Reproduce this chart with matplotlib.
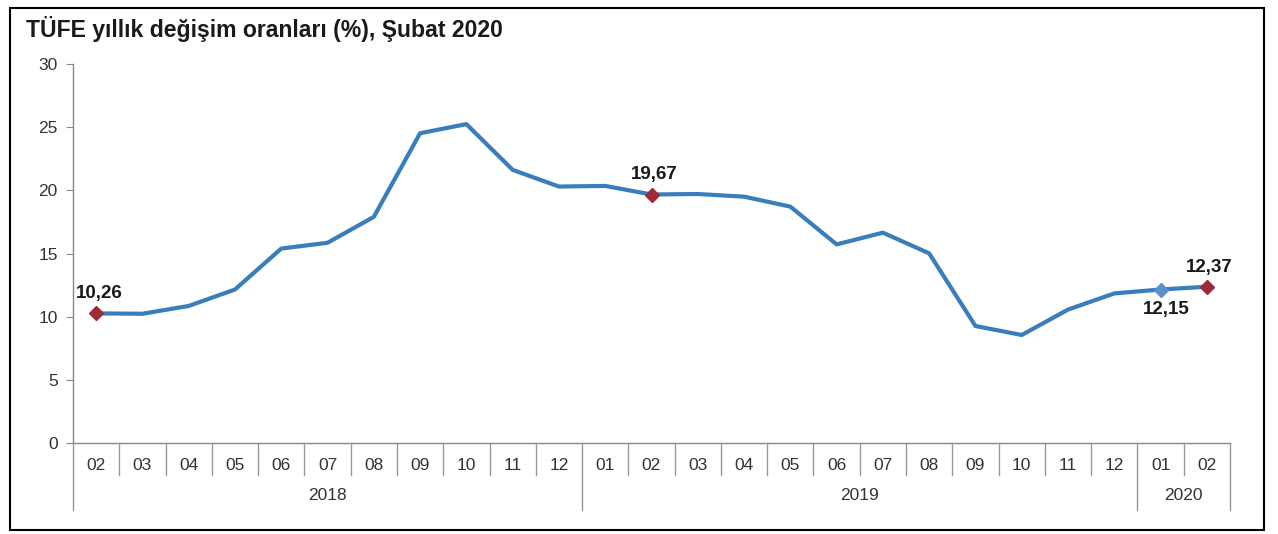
import matplotlib
matplotlib.use("Agg")
import matplotlib.pyplot as plt
from matplotlib.patches import Rectangle
from matplotlib.lines import Line2D

plt.rcParams['font.family'] = ['Liberation Sans', 'DejaVu Sans']

months = ["02", "03", "04", "05", "06", "07", "08", "09", "10", "11", "12",
          "01", "02", "03", "04", "05", "06", "07", "08", "09", "10", "11", "12",
          "01", "02"]
years = ["2018", "2019", "2020"]
year_counts = [11, 12, 2]
values = [10.26, 10.23, 10.85, 12.15, 15.39, 15.85, 17.90, 24.52, 25.24, 21.62, 20.30,
          20.35, 19.67, 19.71, 19.50, 18.71, 15.72, 16.65, 15.01, 9.26, 8.55, 10.56, 11.84,
          12.15, 12.37]
# highlighted points: (index, label, colour, label position)
highlights = [(0, "10,26", "#9E2A35", "above"),
              (12, "19,67", "#9E2A35", "above"),
              (23, "12,15", "#5B8FD0", "below"),
              (24, "12,37", "#9E2A35", "above")]
yticks = [0, 5, 10, 15, 20, 25, 30]
title = "TÜFE yıllık değişim oranları (%), Şubat 2020"

W, H = 1278, 534
fig = plt.figure(figsize=(W / 100, H / 100), dpi=100)
fig.patch.set_facecolor("white")

# outer frame
fig.add_artist(Rectangle((10 / W, 1 - 530 / H), (1264 - 10) / W, (530 - 8) / H,
                         transform=fig.transFigure, fill=False, edgecolor="black", lw=1.5))

fig.text(26 / W, 1 - 29 / H, title, fontsize=16.6, fontweight="bold", color="#1a1a1a",
         va="center", ha="left")

left, right, top, bottom = 73, 1230, 64, 443
ax = fig.add_axes([left / W, 1 - bottom / H, (right - left) / W, (bottom - top) / H])
n = len(values)
x = list(range(n))
ax.plot(x, values, color="#3A7DBB", lw=3.0, solid_joinstyle="round",
        solid_capstyle="round", zorder=2)
for i, lab, col, pos in highlights:
    ax.plot(i, values[i], marker="D", ms=7.5, color=col, mec=col, zorder=3)
    if pos == "above":
        ax.annotate(lab, (i, values[i]), xytext=(2, 8), textcoords="offset points",
                    ha="center", va="bottom", fontsize=13.5, fontweight="bold", color="#1a1a1a")
    else:
        ax.annotate(lab, (i, values[i]), xytext=(4, -8), textcoords="offset points",
                    ha="center", va="top", fontsize=13.5, fontweight="bold", color="#1a1a1a")

ax.set_xlim(-0.5, n - 0.5)
ax.set_ylim(0, 30)
ax.set_yticks(yticks)
ax.set_yticklabels([str(t) for t in yticks], fontsize=12.5, color="#333333")
ax.tick_params(axis="y", direction="out", length=5, color="#888888", pad=6)
ax.set_xticks([])
for s in ["top", "right"]:
    ax.spines[s].set_visible(False)
ax.spines["left"].set_color("#888888")
ax.spines["bottom"].set_color("#888888")
ax.spines["left"].set_linewidth(1)
ax.spines["bottom"].set_linewidth(1)

# category axis drawn in axes-x / figure-y blended coordinates
trans = matplotlib.transforms.blended_transform_factory(ax.transData, fig.transFigure)
y0 = 1 - bottom / H
y_month_sep = 1 - 475 / H
y_year_sep = 1 - 510 / H
y_month_lab = 1 - 465 / H
y_year_lab = 1 - 495 / H
for i, m in enumerate(months):
    ax.text(i, y_month_lab, m, transform=trans, ha="center", va="center",
            fontsize=12.5, color="#333333", clip_on=False)
boundaries = [-0.5]
acc = -0.5
for c in year_counts:
    acc += c
    boundaries.append(acc)
for i in range(n + 1):
    xb = i - 0.5
    yb = y_year_sep if xb in boundaries else y_month_sep
    fig.add_artist(Line2D([xb, xb], [y0, yb], transform=trans, color="#999999", lw=1))
start = -0.5
for yr, c in zip(years, year_counts):
    ax.text(start + c / 2, y_year_lab, yr, transform=trans, ha="center", va="center",
            fontsize=12.5, color="#333333", clip_on=False)
    start += c

fig.savefig("out.png", dpi=100)
